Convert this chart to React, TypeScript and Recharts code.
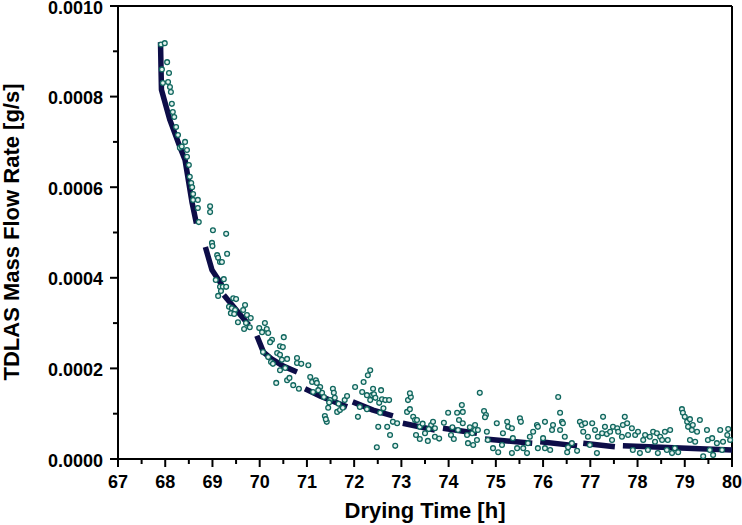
import { ComposedChart, Scatter, Line, XAxis, YAxis, ReferenceLine } from 'recharts';

// measured TDLAS points [time h, flow g/s]
const measured: [number, number][] = [
  [67.91, 0.000915], [67.99, 0.000918], [67.93, 0.00086], [67.95, 0.00083], [68.04, 0.000876],
  [68.06, 0.000832], [68.08, 0.000852], [68.10, 0.000821], [68.12, 0.00081], [68.14, 0.000784],
  [68.16, 0.000766], [68.19, 0.000755], [68.23, 0.000733], [68.27, 0.000715], [68.31, 0.000687],
  [68.35, 0.00069], [68.42, 0.0007], [68.46, 0.000682], [68.46, 0.000667], [68.50, 0.000649],
  [68.52, 0.000623], [68.55, 0.000609], [68.57, 0.0006], [68.59, 0.000585], [68.59, 0.000572],
  [68.69, 0.000572], [68.69, 0.000554], [68.71, 0.000523],
  [68.95, 0.000558], [68.95, 0.000545], [69.01, 0.000505], [69.29, 0.000497], [68.99, 0.000477],
  [69.00, 0.00047], [69.31, 0.000453], [69.10, 0.00045], [69.12, 0.000444], [69.16, 0.000435],
  [69.20, 0.000435], [69.07, 0.000395], [69.24, 0.000397], [69.16, 0.00038], [69.22, 0.00038],
  [69.29, 0.00038], [69.18, 0.000371], [69.12, 0.00036], [69.44, 0.000355], [69.50, 0.000353],
  [69.69, 0.00034], [69.35, 0.000336], [69.41, 0.000333], [69.48, 0.000329], [69.65, 0.000329],
  [69.39, 0.000322], [69.46, 0.00032], [69.73, 0.000318], [69.81, 0.000311], [69.54, 0.000302],
  [69.71, 0.0003], [69.67, 0.000287], [69.79, 0.000291], [70.11, 0.0003], [69.99, 0.000289],
  [70.15, 0.000287], [70.05, 0.00028], [70.18, 0.000278], [70.51, 0.000269], [70.26, 0.000263],
  [70.22, 0.000258], [70.43, 0.000249], [70.49, 0.000247], [70.07, 0.000236], [70.37, 0.000234],
  [70.79, 0.000223], [70.58, 0.000221],
  [70.18, 0.000225], [70.24, 0.000214], [70.28, 0.00021], [70.43, 0.00023], [70.47, 0.000219],
  [70.35, 0.000168], [70.43, 0.000196], [70.54, 0.000201], [70.58, 0.000174], [70.63, 0.000179],
  [70.71, 0.000163], [70.79, 0.000212], [70.83, 0.000155], [70.88, 0.00021], [71.03, 0.000207],
  [71.07, 0.000181], [71.11, 0.00017], [71.19, 0.000174], [71.21, 0.000168], [71.13, 0.000148],
  [71.28, 0.000159], [71.32, 0.000146], [71.36, 0.000137], [71.38, 0.000095], [71.42, 0.000082],
  [71.40, 0.000088], [71.45, 0.000113], [71.49, 0.00013], [71.55, 0.000155], [71.57, 0.000146],
  [71.59, 0.000135], [71.64, 0.000104], [71.70, 0.000108], [71.76, 0.000113], [71.80, 0.00013],
  [71.85, 0.000139], [71.24, 0.000152], [71.47, 0.000125], [71.67, 0.000122],
  [72.02, 0.000159], [72.17, 0.000148], [72.12, 0.000115], [72.08, 0.000093], [72.27, 0.000141],
  [72.29, 0.000185], [72.34, 0.000196], [72.38, 0.000141], [72.42, 0.000143], [72.34, 0.00013],
  [72.45, 0.000135], [72.27, 0.00011], [72.53, 0.000124], [72.57, 0.000152], [72.59, 0.000132],
  [72.66, 0.00013], [72.74, 0.00013], [72.55, 0.000102], [72.51, 0.000071], [72.48, 0.000026],
  [72.70, 0.000071], [72.87, 0.000029], [72.82, 0.000082], [72.91, 0.000079], [72.76, 0.000053],
  [72.62, 0.000112], [72.40, 0.000155], [72.20, 0.00017],
  [73.14, 0.00013], [73.20, 0.000137], [73.18, 0.000145], [73.12, 0.000104], [73.18, 0.00011],
  [73.25, 0.000093], [73.29, 0.000086], [73.33, 0.000086], [73.39, 0.000071], [73.31, 0.000053],
  [73.39, 0.000044], [73.50, 0.000057], [73.56, 0.00004], [73.63, 0.000075], [73.67, 0.000082],
  [73.71, 0.000049], [73.71, 0.000068], [73.45, 0.000078], [73.58, 0.000066], [73.99, 0.000102],
  [74.18, 0.000102], [74.28, 0.000119], [74.30, 0.000104], [74.22, 0.000086], [74.30, 0.000079],
  [74.05, 0.000053], [74.11, 0.000044], [74.20, 0.000064], [74.39, 0.000053], [74.50, 0.000057],
  [74.56, 0.000064], [74.41, 0.000035], [74.60, 0.000042], [74.52, 0.000031], [74.66, 0.000146],
  [73.90, 0.00008], [74.08, 0.00007], [73.80, 0.000045], [74.45, 0.00007],
  [74.75, 0.000106], [74.79, 0.000097], [74.77, 0.000092], [74.56, 0.000075], [74.62, 0.000064],
  [74.81, 0.00006], [74.83, 0.000042], [75.02, 0.000079], [74.94, 0.000024], [75.05, 0.000015],
  [75.13, 0.000031], [75.15, 0.000057], [75.24, 0.000082], [75.26, 0.000071], [75.34, 0.000068],
  [75.36, 0.000046], [75.34, 0.000013], [75.45, 0.000024], [75.51, 0.00009], [75.53, 0.000082],
  [75.58, 0.000024], [75.66, 0.000013], [75.68, 0.000035], [75.72, 0.000049], [75.79, 0.00006],
  [75.87, 0.000075], [75.89, 0.000071], [75.89, 0.000024], [76.04, 0.000082], [76.00, 0.000046],
  [76.04, 0.000024], [76.15, 0.00002], [76.19, 0.000064], [76.21, 0.000075], [76.32, 0.000137],
  [76.36, 0.000102], [76.40, 0.000082], [76.42, 0.000079], [76.36, 0.000064], [76.46, 0.000049],
  [76.51, 0.000015], [76.53, 0.000026], [76.61, 0.000035], [76.72, 0.000018], [76.78, 0.000082],
  [76.82, 0.000075], [76.89, 0.000079], [76.85, 0.00006], [76.95, 0.000049], [76.99, 0.000031],
  [77.04, 0.000079], [77.10, 0.000064], [77.14, 0.000013], [77.16, 0.000049], [77.25, 0.000057],
  [77.27, 0.000093], [77.31, 0.000071], [77.35, 0.000055], [77.42, 0.00006], [77.46, 0.000042],
  [77.48, 0.000071], [77.57, 0.000068], [77.59, 0.00006], [77.67, 0.000049], [77.69, 0.000075],
  [77.73, 0.000093], [77.78, 0.000079], [77.80, 0.000053], [77.88, 0.000068], [77.95, 0.000053],
  [77.90, 0.00002], [78.01, 0.00006], [78.05, 0.000013], [78.12, 0.000042], [78.16, 0.000053],
  [78.22, 0.00002], [78.26, 0.000049], [78.33, 0.00006], [78.37, 0.000038], [78.41, 0.000057],
  [78.43, 0.000013], [78.48, 0.000049], [78.52, 0.000042], [78.58, 0.00006], [78.62, 0.00002],
  [78.64, 0.000042], [78.69, 0.000064], [78.73, 0.000013], [78.79, 0.000024], [78.86, 0.000015],
  [78.94, 0.00011], [78.96, 0.000102], [79.00, 0.000093], [79.05, 0.000082], [79.07, 0.000071],
  [79.11, 0.000088], [79.15, 0.000064], [79.17, 0.000075], [79.11, 0.000042], [79.22, 0.000038],
  [79.26, 0.00006], [79.32, 0.000086], [79.39, 0.000006], [79.47, 0.000064], [79.49, 0.000042],
  [79.53, 0.00002], [79.58, 0.000046], [79.60, 0.000009], [79.68, 0.000035], [79.75, 0.000064],
  [79.79, 0.00002], [79.81, 0.000038], [79.90, 0.000053], [79.92, 0.000066], [79.96, 0.000042],
];

// piecewise fitted curves
const fitSegments: [number, number][][] = [
  [[67.90, 0.00092], [67.92, 0.000815], [68.10, 0.000748], [68.31, 0.000689], [68.42, 0.00066], [68.57, 0.000565], [68.66, 0.00052]],
  [[68.85, 0.000468], [68.99, 0.000417], [69.20, 0.000384]],
  [[69.24, 0.000362], [69.77, 0.000296]],
  [[69.94, 0.000272], [70.08, 0.000236], [70.25, 0.000221], [70.50, 0.000205], [70.79, 0.000192]],
  [[70.96, 0.000155], [71.30, 0.000138], [71.85, 0.000115]],
  [[71.97, 0.000126], [72.40, 0.000108], [72.82, 0.000095]],
  [[73.03, 0.000079], [73.71, 0.000064]],
  [[73.88, 0.000068], [74.60, 0.000057]],
  [[74.77, 0.000044], [75.77, 0.000035]],
  [[75.94, 0.000038], [76.72, 0.000029]],
  [[76.85, 0.000035], [77.52, 0.000027]],
  [[77.69, 0.000029], [80.00, 0.00002]],
];

const xMajorTicks = [67, 68, 69, 70, 71, 72, 73, 74, 75, 76, 77, 78, 79, 80];
const xMinorTicks = [67.5, 68.5, 69.5, 70.5, 71.5, 72.5, 73.5, 74.5, 75.5, 76.5, 77.5, 78.5, 79.5];
const yMajorTicks = [0, 0.0002, 0.0004, 0.0006, 0.0008, 0.001];
const yMinorTicks = [0.0001, 0.0003, 0.0005, 0.0007, 0.0009];

const FONT = '"Liberation Sans", Arial, sans-serif';

const toPoints = (pairs: [number, number][]) => pairs.map(([x, y]) => ({ x, y }));

const XTick = (props: any) => {
  const { x, y, payload } = props;
  const major = xMajorTicks.includes(payload.value);
  return (
    <g>
      <line x1={x} x2={x} y1={y} y2={y + (major ? 8 : 5)} stroke="#000" strokeWidth={2} />
      {major && (
        <text x={x} y={y + 29} textAnchor="middle" fontSize={18} fontWeight={700} fontFamily={FONT} fill="#000">
          {payload.value}
        </text>
      )}
    </g>
  );
};

const YTick = (props: any) => {
  const { x, y, payload } = props;
  const major = yMajorTicks.includes(payload.value);
  return (
    <g>
      <line x1={x} x2={x - (major ? 8 : 5)} y1={y} y2={y} stroke="#000" strokeWidth={2} />
      {major && (
        <text x={x - 15} y={y + 7.5} textAnchor="end" fontSize={18} fontWeight={700} fontFamily={FONT} fill="#000">
          {payload.value.toFixed(4)}
        </text>
      )}
    </g>
  );
};

const Dot = (props: any) => (
  <circle cx={props.cx} cy={props.cy} r={2.4} fill="#e4f2ee" stroke="#0f665e" strokeWidth={1.3} />
);

export default function App() {
  return (
    <div style={{ position: 'absolute', left: 0, top: 0, background: '#fff' }}>
      <ComposedChart width={742} height={525} margin={{ top: 6, right: 10, bottom: 0, left: 0 }}>
        <XAxis
          type="number"
          dataKey="x"
          domain={[67, 80]}
          ticks={[...xMajorTicks, ...xMinorTicks].sort((a, b) => a - b)}
          interval={0}
          height={66}
          tickSize={0}
          tickMargin={0}
          tickLine={false}
          tick={<XTick />}
          axisLine={{ stroke: '#000', strokeWidth: 2 }}
        />
        <YAxis
          type="number"
          dataKey="y"
          domain={[0, 0.001]}
          ticks={[...yMajorTicks, ...yMinorTicks].sort((a, b) => a - b)}
          interval={0}
          width={118}
          tickSize={0}
          tickMargin={0}
          tickLine={false}
          tick={<YTick />}
          axisLine={{ stroke: '#000', strokeWidth: 2 }}
        />
        <ReferenceLine y={0.001} stroke="#000" strokeWidth={2} />
        <ReferenceLine x={80} stroke="#000" strokeWidth={2} />
        <Scatter data={toPoints(measured)} dataKey="y" shape={<Dot />} isAnimationActive={false} />
        {fitSegments.map((seg, i) => (
          <Line
            key={i}
            data={toPoints(seg)}
            dataKey="y"
            stroke="#0d0d48"
            strokeWidth={5.5}
            strokeLinejoin="round"
            dot={false}
            activeDot={false}
            isAnimationActive={false}
          />
        ))}
        <text x={425} y={518} textAnchor="middle" fontSize={22} fontWeight={700} fontFamily={FONT} fill="#000">
          Drying Time [h]
        </text>
        <text
          x={19}
          y={232}
          transform="rotate(-90 19 232)"
          textAnchor="middle"
          fontSize={22}
          fontWeight={700}
          fontFamily={FONT}
          fill="#000"
        >
          TDLAS Mass Flow Rate [g/s]
        </text>
      </ComposedChart>
    </div>
  );
}
